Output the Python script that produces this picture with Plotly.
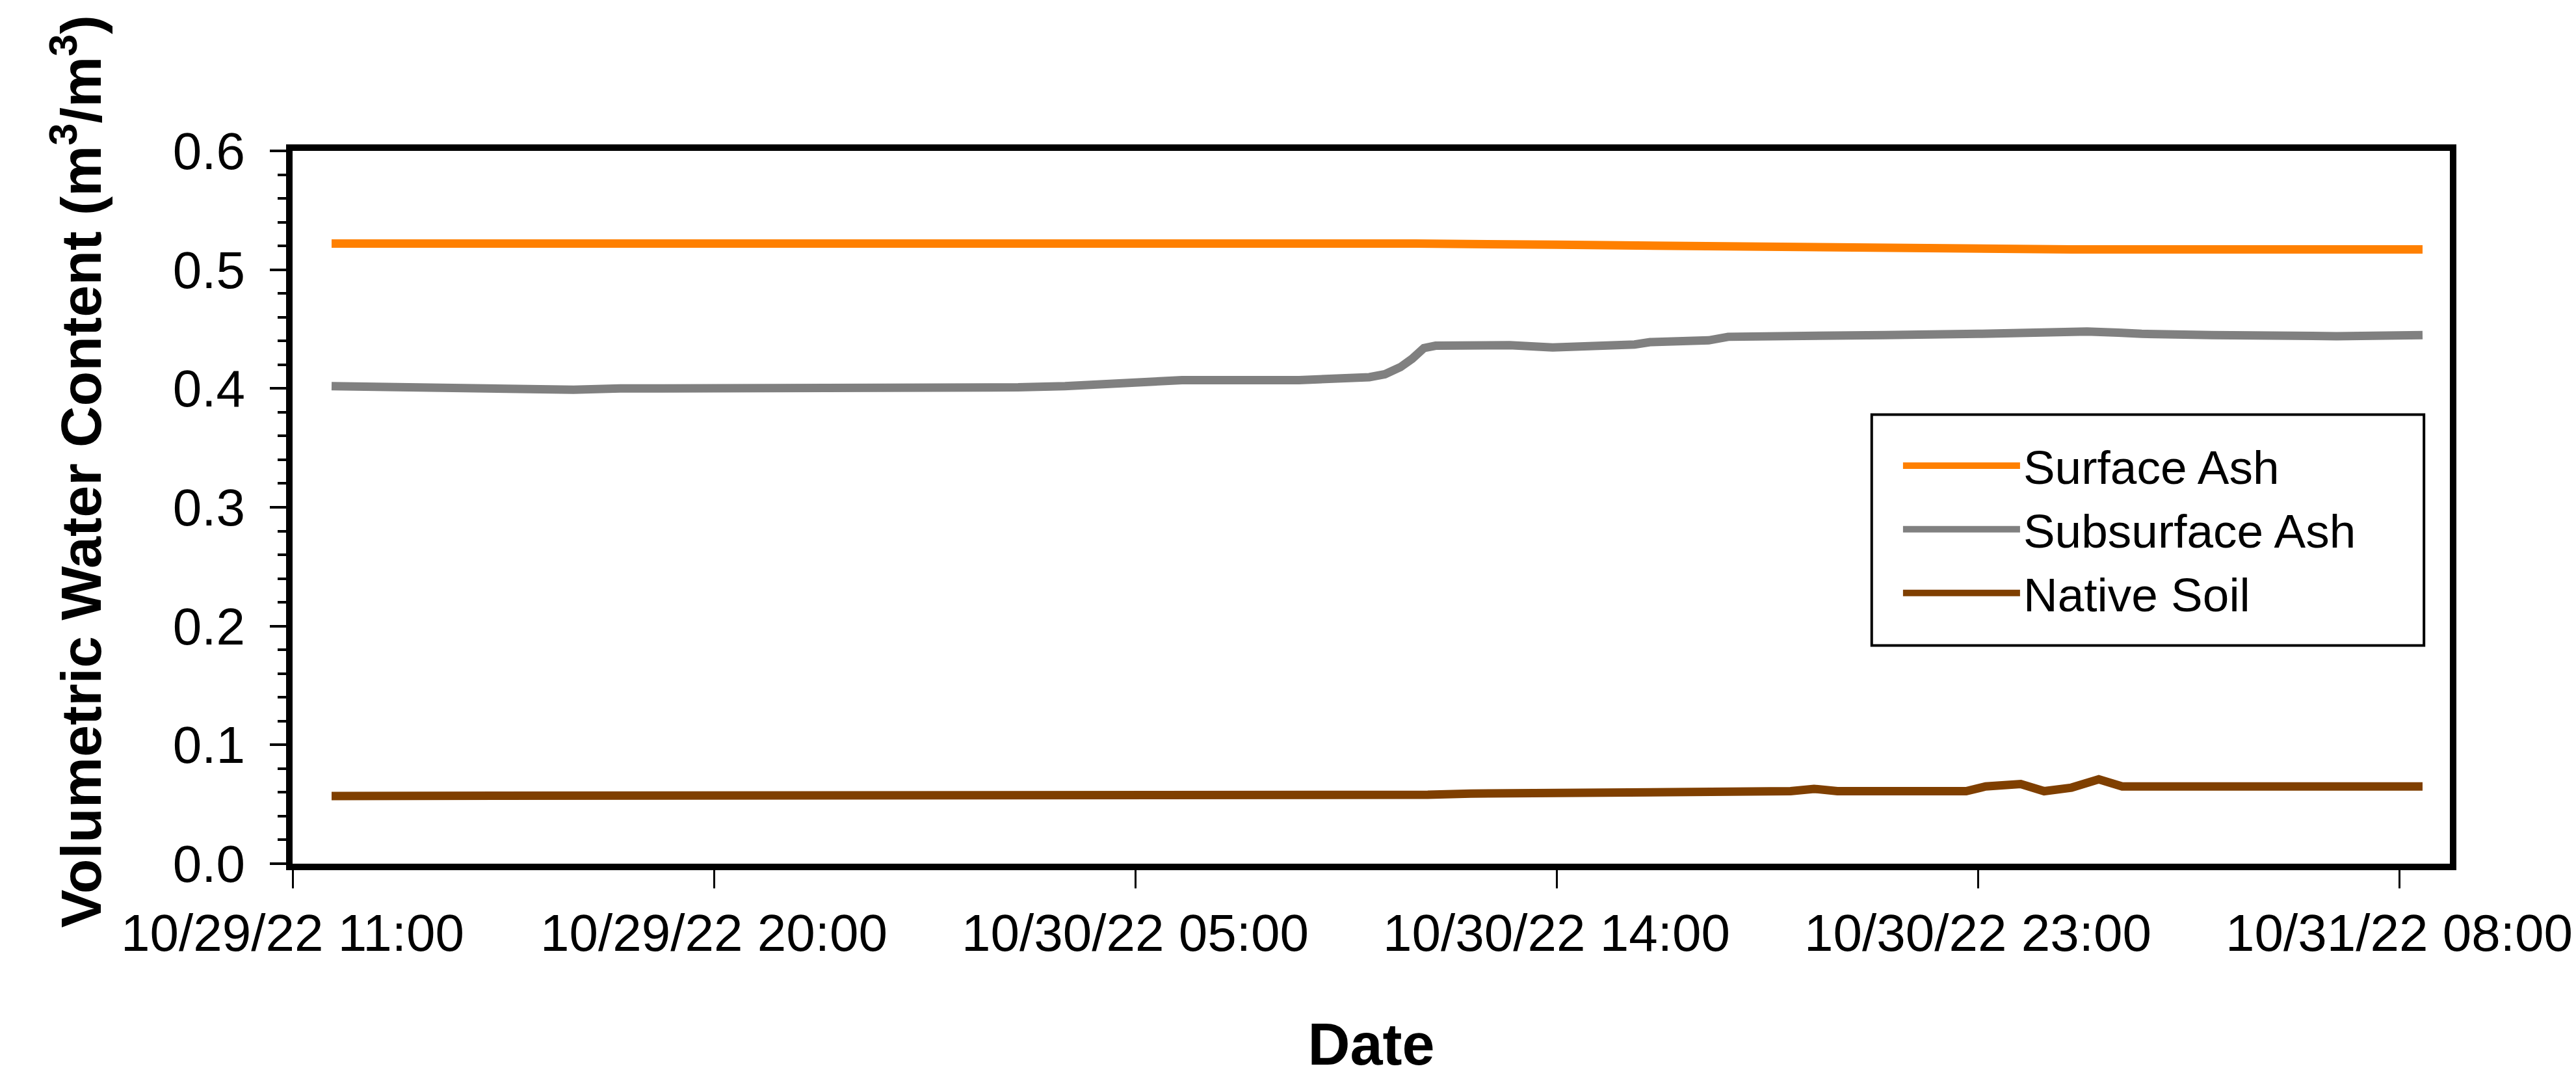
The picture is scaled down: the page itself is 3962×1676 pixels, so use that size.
import plotly.graph_objects as go

# Volumetric water content readings (m3/m3)
surface_time = [
    "2022-10-29 11:50", "2022-10-29 14:40", "2022-10-29 15:00", "2022-10-30 03:20",
    "2022-10-30 04:00", "2022-10-30 11:00", "2022-10-30 14:00", "2022-10-30 17:00",
    "2022-10-30 20:00", "2022-10-30 23:00", "2022-10-31 01:00", "2022-10-31 08:30",
]
surface_vwc = [0.522, 0.522, 0.523, 0.523, 0.522, 0.522, 0.521, 0.520, 0.519, 0.518, 0.517, 0.517]

subsurface_time = [
    "2022-10-29 11:50", "2022-10-29 13:00", "2022-10-29 14:00", "2022-10-29 15:00",
    "2022-10-29 17:00", "2022-10-29 18:00", "2022-10-29 21:00", "2022-10-30 00:00",
    "2022-10-30 02:30", "2022-10-30 03:30", "2022-10-30 04:30", "2022-10-30 05:30",
    "2022-10-30 06:00", "2022-10-30 08:30", "2022-10-30 09:45", "2022-10-30 10:00",
    "2022-10-30 10:20", "2022-10-30 10:40", "2022-10-30 10:55", "2022-10-30 11:10",
    "2022-10-30 11:25", "2022-10-30 12:30", "2022-10-30 13:00", "2022-10-30 13:55",
    "2022-10-30 14:30", "2022-10-30 15:10", "2022-10-30 15:40", "2022-10-30 16:00",
    "2022-10-30 16:40", "2022-10-30 17:15", "2022-10-30 17:40", "2022-10-30 19:00",
    "2022-10-30 19:45", "2022-10-30 21:00", "2022-10-30 23:00", "2022-10-31 00:00",
    "2022-10-31 01:20", "2022-10-31 02:00", "2022-10-31 02:30", "2022-10-31 04:00",
    "2022-10-31 06:10", "2022-10-31 06:40", "2022-10-31 08:30",
]
subsurface_vwc = [
    0.402, 0.401, 0.400, 0.399, 0.399, 0.400, 0.400, 0.401,
    0.401, 0.402, 0.404, 0.406, 0.407, 0.407, 0.408, 0.4095,
    0.412, 0.418, 0.425, 0.434, 0.436, 0.436, 0.4365, 0.4345,
    0.435, 0.435, 0.437, 0.439, 0.440, 0.4405, 0.4435, 0.4435,
    0.4445, 0.445, 0.446, 0.447, 0.448, 0.447, 0.446, 0.445,
    0.443, 0.444, 0.445,
]

native_time = [
    "2022-10-29 11:50", "2022-10-29 14:30", "2022-10-29 15:00", "2022-10-29 15:40",
    "2022-10-29 16:20", "2022-10-29 17:00", "2022-10-29 17:40", "2022-10-29 18:20",
    "2022-10-29 19:00", "2022-10-29 19:40", "2022-10-29 20:20", "2022-10-29 21:00",
    "2022-10-29 21:40", "2022-10-29 22:20", "2022-10-29 23:00", "2022-10-29 23:40",
    "2022-10-30 00:20", "2022-10-30 01:00", "2022-10-30 01:40", "2022-10-30 11:10",
    "2022-10-30 11:15", "2022-10-30 12:10", "2022-10-30 14:50", "2022-10-30 17:30",
    "2022-10-30 18:00", "2022-10-30 18:30", "2022-10-30 19:00", "2022-10-30 19:30",
    "2022-10-30 20:00", "2022-10-30 22:45", "2022-10-30 23:10", "2022-10-30 23:55",
    "2022-10-31 00:25", "2022-10-31 01:00", "2022-10-31 01:35", "2022-10-31 02:05",
    "2022-10-31 08:30",
]
native_vwc = [
    0.057, 0.057, 0.0575, 0.0565, 0.0575, 0.0565, 0.0575, 0.0565,
    0.0575, 0.0565, 0.0575, 0.0565, 0.0575, 0.0565, 0.0575, 0.0565,
    0.0575, 0.0565, 0.057, 0.0565, 0.058, 0.059, 0.060, 0.061,
    0.0605, 0.062, 0.061, 0.063, 0.061, 0.061, 0.065, 0.067,
    0.061, 0.064, 0.071, 0.065, 0.065,
]

FONT = "Arial, Liberation Sans, sans-serif"

fig = go.Figure()
fig.add_trace(go.Scatter(x=surface_time, y=surface_vwc, mode="lines", name="Surface Ash",
                         line=dict(color="#FF8000", width=13)))
fig.add_trace(go.Scatter(x=subsurface_time, y=subsurface_vwc, mode="lines", name="Subsurface Ash",
                         line=dict(color="#808080", width=13)))
fig.add_trace(go.Scatter(x=native_time, y=native_vwc, mode="lines", name="Native Soil",
                         line=dict(color="#7F3F00", width=13)))

# legend frame
fig.add_shape(type="rect", xref="paper", yref="paper",
              x0=0.732, x1=0.988, y0=0.306, y1=0.630,
              line=dict(color="black", width=4), fillcolor="white", layer="below")

# y axis title, placed a little above the plot centre as in the original
fig.add_annotation(
    text="<b>Volumetric Water Content (m<sup>3</sup>/m<sup>3</sup>)</b>",
    xref="paper", yref="paper", x=-0.100, y=0.55, textangle=-90,
    xanchor="center", yanchor="middle",
    showarrow=False, font=dict(size=88),
)

fig.update_layout(
    width=3962, height=1676,
    margin=dict(l=442, r=202, t=224, b=356),
    paper_bgcolor="white", plot_bgcolor="white",
    font=dict(family=FONT, color="black", size=80),
    showlegend=True,
    legend=dict(
        x=0.745, y=0.469, xanchor="left", yanchor="middle",
        bgcolor="rgba(0,0,0,0)", borderwidth=0,
        font=dict(size=73), itemwidth=180,
    ),
)

fig.update_xaxes(
    range=["2022-10-29 11:00", "2022-10-31 09:05"],
    tick0="2022-10-29 11:00", dtick=9 * 3600 * 1000,
    tickformat="%m/%d/%y %H:%M",
    showline=True, linewidth=10, linecolor="black", mirror=True,
    ticks="outside", ticklen=28, tickwidth=3, tickcolor="black",
    showgrid=False, zeroline=False,
    tickfont=dict(size=80),
    title=dict(text="<b>Date</b>", font=dict(size=90), standoff=100),
)
fig.update_yaxes(
    range=[0, 0.6], dtick=0.1, tickformat=".1f",
    showline=True, linewidth=10, linecolor="black", mirror=True,
    ticks="outside", ticklen=25, tickwidth=4, tickcolor="black",
    minor=dict(tickmode="linear", tick0=0, dtick=0.02, ticks="outside",
               ticklen=13, tickwidth=4, tickcolor="black"),
    showgrid=False, zeroline=False,
    tickfont=dict(size=80), ticklabelstandoff=22,
)

fig.write_html("out.html")
